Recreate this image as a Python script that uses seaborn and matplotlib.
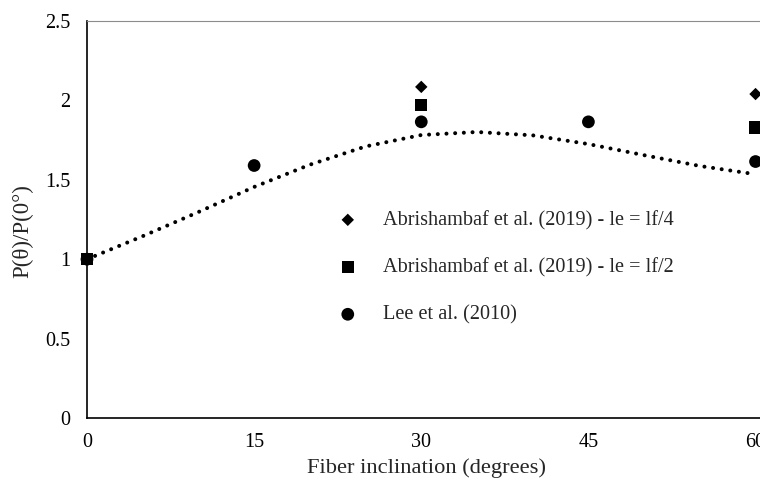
import matplotlib
matplotlib.use("Agg")
import matplotlib.pyplot as plt
import seaborn as sns
import pandas as pd

# Pull-out load ratio versus fibre inclination
angles_abr = [0, 30, 60]
ratio_lf4 = [1.0, 2.085, 2.04]
ratio_lf2 = [1.0, 1.97, 1.83]

angles_lee = [0, 15, 30, 45, 60]
ratio_lee = [1.0, 1.59, 1.865, 1.865, 1.615]

# Trend curve values
trend_angles = [0, 5, 10, 15, 20, 25, 30, 35, 40, 45, 50, 55, 60]
trend_ratio = [1.0, 1.145, 1.297, 1.455, 1.595, 1.71, 1.782, 1.801, 1.78,
               1.725, 1.655, 1.587, 1.535]

label_lf4 = "Abrishambaf et al. (2019) - le = lf/4"
label_lf2 = "Abrishambaf et al. (2019) - le = lf/2"
label_lee = "Lee et al. (2010)"

sns.set_style("white")
plt.rcParams["font.family"] = ["Liberation Serif", "DejaVu Serif"]
plt.rcParams["mathtext.fontset"] = "stix"

fig = plt.figure(figsize=(7.6, 4.86), dpi=100)
ax = fig.add_axes([87 / 760, (486 - 418) / 486, (760 - 87) / 760, (418 - 21) / 486])

trend = pd.DataFrame({"angle": trend_angles, "ratio": trend_ratio})
sns.lineplot(data=trend, x="angle", y="ratio", ax=ax, color="black",
             linewidth=2.9, linestyle=(0, (0.01, 2.15)),
             dash_capstyle="round", solid_capstyle="round", zorder=2)

df4 = pd.DataFrame({"angle": angles_abr, "ratio": ratio_lf4})
df2 = pd.DataFrame({"angle": angles_abr, "ratio": ratio_lf2})
dfl = pd.DataFrame({"angle": angles_lee, "ratio": ratio_lee})

sns.scatterplot(data=df4, x="angle", y="ratio", ax=ax, marker="D", s=40,
                color="black", edgecolor="none", label=label_lf4,
                clip_on=False, zorder=3)
sns.scatterplot(data=df2, x="angle", y="ratio", ax=ax, marker="s", s=78,
                color="black", edgecolor="none", label=label_lf2,
                clip_on=False, zorder=3)
sns.scatterplot(data=dfl, x="angle", y="ratio", ax=ax, marker="o", s=84,
                color="black", edgecolor="none", label=label_lee,
                clip_on=False, zorder=3)

ax.set_xlim(0, 60.4)
ax.set_ylim(0, 2.5)
ax.set_xticks([0, 15, 30, 45, 60])
ax.set_xticklabels(["0", "15", "30", "45", "60"])
ax.set_yticks([0, 0.5, 1, 1.5, 2, 2.5])
ax.set_yticklabels(["0", "0.5", "1", "1.5", "2", "2.5"])

ax.tick_params(axis="both", direction="in", length=5, width=0.8,
               color="#8c8c8c", labelsize=14.5, labelcolor="black")
ax.tick_params(axis="x", pad=11)
ax.tick_params(axis="y", pad=12)

for side in ("left", "bottom"):
    ax.spines[side].set_color("black")
    ax.spines[side].set_linewidth(1.2)
ax.spines["top"].set_color("#8c8c8c")
ax.spines["top"].set_linewidth(0.8)
ax.spines["right"].set_visible(False)

ax.set_xlabel("Fiber inclination (degrees)", fontsize=16.2)
ax.set_ylabel("P(θ)/P(0°)", fontsize=16.5)
ax.xaxis.set_label_coords(0.505, -0.101)
ax.yaxis.set_label_coords(-0.080, 0.47)

leg = ax.legend(loc="upper left", bbox_to_anchor=(0.3453, 0.5425),
                frameon=False, fontsize=14.6, labelspacing=1.375,
                handletextpad=0.75, borderaxespad=0, scatterpoints=1)

fig.savefig("out.png", dpi=100)
